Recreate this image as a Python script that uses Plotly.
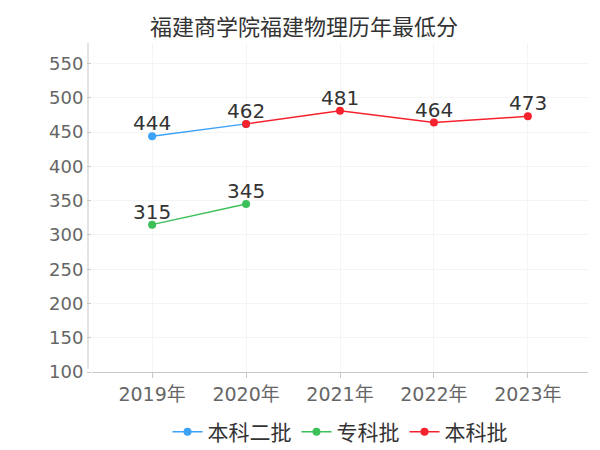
import plotly.graph_objects as go

title = "福建商学院福建物理历年最低分"
categories = ["2019年", "2020年", "2021年", "2022年", "2023年"]

s1_name = "本科二批"
s1_x = ["2019年", "2020年"]
s1_y = [444, 462]

s2_name = "专科批"
s2_x = ["2019年", "2020年"]
s2_y = [315, 345]

s3_name = "本科批"
s3_x = ["2020年", "2021年", "2022年", "2023年"]
s3_y = [462, 481, 464, 473]

y_ticks = [100, 150, 200, 250, 300, 350, 400, 450, 500, 550]

FONT = "DejaVu Sans, Noto Sans CJK SC, sans-serif"
CJK = "Noto Sans CJK SC, sans-serif"

series = [
    (s1_name, s1_x, s1_y, "#3ba2f6"),
    (s2_name, s2_x, s2_y, "#3cc05a"),
    (s3_name, s3_x, s3_y, "#f5222d"),
]

fig = go.Figure()
labelled = set()
for name, xs, ys, color in series:
    fig.add_trace(go.Scatter(
        x=xs, y=ys, name=name, mode="lines+markers",
        line=dict(color=color, width=1.5), marker=dict(size=8, color=color),
    ))
    for x, y in zip(xs, ys):
        if (x, y) in labelled:
            continue
        labelled.add((x, y))
        fig.add_annotation(
            x=x, y=y, text=str(y), showarrow=False,
            xanchor="center", yanchor="bottom", yshift=-1,
            font=dict(size=20, color="#333333", family=FONT),
        )

fig.update_layout(
    width=592, height=442,
    paper_bgcolor="white", plot_bgcolor="white",
    margin=dict(l=84, r=12, t=35, b=78, autoexpand=False),
    font=dict(family=FONT, color="#333333"),
    title=dict(text=title, x=0.5, xanchor="center", y=1 - 19 / 442, yanchor="middle",
               font=dict(size=22, color="#333333", family=CJK)),
    showlegend=True,
    legend=dict(orientation="h", x=0.5, xanchor="center", y=-0.12, yanchor="top",
                font=dict(size=21, color="#333333", family=CJK),
                itemwidth=30, tracegroupgap=0),
    xaxis=dict(
        type="category", categoryorder="array", categoryarray=categories,
        range=[-0.64, 4.64],
        showgrid=True, gridcolor="#f4f4f4", gridwidth=1,
        showline=True, linecolor="#c8c8c8", linewidth=1,
        ticks="outside", ticklen=5, tickcolor="#c8c8c8",
        tickfont=dict(size=19, color="#666666", family=FONT),
        zeroline=False, fixedrange=True,
    ),
    yaxis=dict(
        range=[100, 580], tickvals=y_ticks,
        showgrid=True, gridcolor="#f4f4f4", gridwidth=1,
        showline=False,
        ticks="outside", ticklen=4, tickcolor="#c8c8c8",
        tickfont=dict(size=18, color="#666666", family=FONT),
        zeroline=False, fixedrange=True,
    ),
)
fig.add_shape(type="line", xref="paper", yref="paper",
              x0=-4/496, x1=-4/496, y0=0.01, y1=1,
              line=dict(color="#c8c8c8", width=1))

fig.write_html("out.html")
